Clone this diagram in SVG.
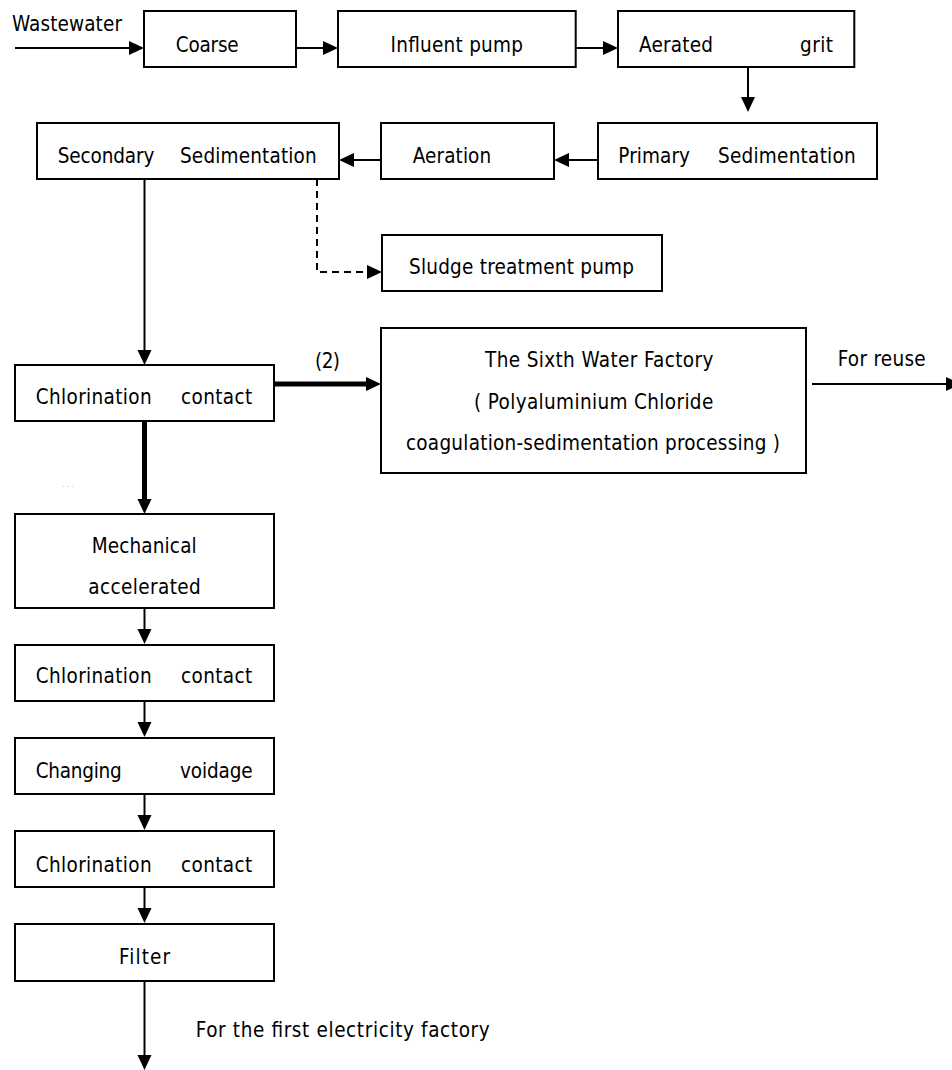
<svg xmlns="http://www.w3.org/2000/svg" width="952" height="1070" viewBox="0 0 952 1070">
<style>
  .box { fill: #ffffff; stroke: #000000; stroke-width: 2; }
  .t { font-family: "DejaVu Sans Condensed", "DejaVu Sans", sans-serif; font-size: 20.5px; fill: #000000; lengthAdjust: spacing; }
  .c { fill: none; stroke: #000000; stroke-width: 2; marker-end: url(#ah); }
  .thick { stroke-width: 5; }
  .dash { stroke-dasharray: 7 5; }
</style>
<defs>
  <marker id="ah" markerUnits="userSpaceOnUse" markerWidth="16" markerHeight="15" refX="1" refY="7" orient="auto" viewBox="0 0 16 14">
    <path d="M0,0 L15,7 L0,14 z" fill="#000000"/>
  </marker>
</defs>
<rect width="952" height="1070" fill="#ffffff"/>

<g id="connectors">
  <line class="c" x1="15" y1="48" x2="130" y2="48"/>
  <line class="c" x1="296" y1="48" x2="324" y2="48"/>
  <line class="c" x1="576" y1="48" x2="604" y2="48"/>
  <line class="c" x1="748" y1="67" x2="748" y2="98"/>
  <line class="c" x1="598" y1="160" x2="568" y2="160"/>
  <line class="c" x1="381" y1="160" x2="353" y2="160"/>
  <line class="c" x1="144.5" y1="179" x2="144.5" y2="351"/>
  <path class="c dash" d="M317,179 V272 H368"/>
  <line class="c thick" x1="274" y1="384" x2="367" y2="384"/>
  <line class="c" x1="812" y1="384" x2="947" y2="384"/>
  <line class="c thick" x1="144.5" y1="421" x2="144.5" y2="500"/>
  <line class="c" x1="144.5" y1="608" x2="144.5" y2="630"/>
  <line class="c" x1="144.5" y1="701" x2="144.5" y2="723"/>
  <line class="c" x1="144.5" y1="794" x2="144.5" y2="816"/>
  <line class="c" x1="144.5" y1="887" x2="144.5" y2="909"/>
  <line class="c" x1="144.5" y1="981" x2="144.5" y2="1056"/>
</g>

<g id="labels">
  <text class="t" x="12" y="30.7" textLength="110">Wastewater</text>
  <text class="t" x="315" y="368" textLength="25">(2)</text>
  <text class="t" x="837.7" y="366" textLength="88">For reuse</text>
  <text class="t" x="195.7" y="1036.7" textLength="294">For the first electricity factory</text>
  <text x="62" y="487" font-family="DejaVu Sans, sans-serif" font-size="7" fill="#999999">. . .</text>
</g>

<g id="coarse">
  <rect class="box" x="144" y="11" width="152" height="56"/>
  <text class="t" x="175.7" y="51.7" textLength="63">Coarse</text>
</g>
<g id="influent-pump">
  <rect class="box" x="338" y="11" width="237.7" height="56"/>
  <text class="t" x="390.5" y="51.7" textLength="132.5">Influent pump</text>
</g>
<g id="aerated-grit">
  <rect class="box" x="618" y="11" width="236.3" height="56"/>
  <text class="t" x="639" y="51.7" textLength="74">Aerated</text>
  <text class="t" x="800" y="51.7" textLength="33">grit</text>
</g>
<g id="secondary-sedimentation">
  <rect class="box" x="37" y="123" width="302" height="56"/>
  <text class="t" x="57.7" y="162.5" textLength="96.6">Secondary</text>
  <text class="t" x="180" y="162.5" textLength="136.7">Sedimentation</text>
</g>
<g id="aeration">
  <rect class="box" x="381" y="123" width="173" height="56"/>
  <text class="t" x="412.7" y="162.5" textLength="78.5">Aeration</text>
</g>
<g id="primary-sedimentation">
  <rect class="box" x="598" y="123" width="279" height="56"/>
  <text class="t" x="618.3" y="162.5" textLength="71.7">Primary</text>
  <text class="t" x="718" y="162.5" textLength="137.7">Sedimentation</text>
</g>
<g id="sludge-treatment-pump">
  <rect class="box" x="382" y="235" width="280" height="56"/>
  <text class="t" x="409" y="274.3" textLength="225">Sludge treatment pump</text>
</g>
<g id="chlorination-contact-1">
  <rect class="box" x="15" y="365" width="259" height="56"/>
  <text class="t" x="35.7" y="404.3" textLength="116">Chlorination</text>
  <text class="t" x="181" y="404.3" textLength="71.3">contact</text>
</g>
<g id="sixth-water-factory">
  <rect class="box" x="381" y="328" width="425" height="145"/>
  <text class="t" x="485" y="366.7" textLength="228.3">The Sixth Water Factory</text>
  <text class="t" x="474" y="409" textLength="239.3">( Polyaluminium Chloride</text>
  <text class="t" x="406" y="450" textLength="374">coagulation-sedimentation processing )</text>
</g>
<g id="mechanical-accelerated">
  <rect class="box" x="15" y="514" width="259" height="94"/>
  <text class="t" x="91.7" y="553.3" textLength="105">Mechanical</text>
  <text class="t" x="88.3" y="594.3" textLength="112.4">accelerated</text>
</g>
<g id="chlorination-contact-2">
  <rect class="box" x="15" y="645" width="259" height="56"/>
  <text class="t" x="35.7" y="683.3" textLength="116">Chlorination</text>
  <text class="t" x="181" y="683.3" textLength="71.3">contact</text>
</g>
<g id="changing-voidage">
  <rect class="box" x="15" y="738" width="259" height="56"/>
  <text class="t" x="35.7" y="777.7" textLength="86">Changing</text>
  <text class="t" x="180" y="777.7" textLength="72.7">voidage</text>
</g>
<g id="chlorination-contact-3">
  <rect class="box" x="15" y="831" width="259" height="56"/>
  <text class="t" x="35.7" y="871.7" textLength="116">Chlorination</text>
  <text class="t" x="181" y="871.7" textLength="71.3">contact</text>
</g>
<g id="filter">
  <rect class="box" x="15" y="924" width="259" height="57"/>
  <text class="t" x="119" y="964" textLength="51">Filter</text>
</g>
</svg>
